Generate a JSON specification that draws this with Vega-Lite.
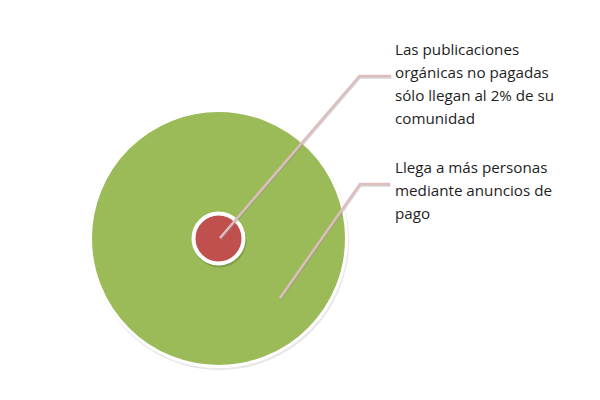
{
  "$schema": "https://vega.github.io/schema/vega-lite/v6.json",
  "width": 600,
  "height": 400,
  "autosize": "none",
  "padding": 0,
  "background": "white",
  "config": {"view": {"stroke": null}},
  "datasets": {
    "circulos": [
      {"segmento": "Llega a más personas mediante anuncios de pago", "cx": 218.5, "cy": 238.5},
      {"segmento": "Publicaciones orgánicas no pagadas", "cx": 218.5, "cy": 238.5}
    ],
    "guias": [
      {"guia": "organico", "orden": 0, "x": 220, "y": 238},
      {"guia": "organico", "orden": 1, "x": 359.5, "y": 76},
      {"guia": "organico", "orden": 2, "x": 391, "y": 76},
      {"guia": "pago", "orden": 0, "x": 280, "y": 298},
      {"guia": "pago", "orden": 1, "x": 360, "y": 184},
      {"guia": "pago", "orden": 2, "x": 390, "y": 184}
    ],
    "etiquetas": [
      {"texto": "Las publicaciones\norgánicas no pagadas\nsólo llegan al 2% de su\ncomunidad", "x": 395, "y": 54.5},
      {"texto": "Llega a más personas\nmediante anuncios de\npago", "x": 395, "y": 172.5}
    ]
  },
  "encoding": {
    "x": {"field": "x", "type": "quantitative", "scale": {"domain": [0, 600], "nice": false, "zero": false}, "axis": null},
    "y": {"field": "y", "type": "quantitative", "scale": {"domain": [0, 400], "nice": false, "zero": false, "reverse": true}, "axis": null}
  },
  "layer": [
    {
      "data": {"name": "circulos"},
      "transform": [{"filter": "datum.segmento == 'Llega a más personas mediante anuncios de pago'"}],
      "mark": {"type": "point", "shape": "circle", "filled": true, "size": 67240, "color": "#000000", "opacity": 0.09, "xOffset": 1, "yOffset": 2},
      "encoding": {"x": {"field": "cx", "type": "quantitative"}, "y": {"field": "cy", "type": "quantitative"}}
    },
    {
      "data": {"name": "circulos"},
      "transform": [{"filter": "datum.segmento == 'Llega a más personas mediante anuncios de pago'"}],
      "mark": {"type": "point", "shape": "circle", "filled": true, "size": 65536, "fill": "#9BBB59", "stroke": "#FFFFFF", "strokeWidth": 3, "opacity": 1},
      "encoding": {"x": {"field": "cx", "type": "quantitative"}, "y": {"field": "cy", "type": "quantitative"}}
    },
    {
      "data": {"name": "circulos"},
      "transform": [{"filter": "datum.segmento == 'Publicaciones orgánicas no pagadas'"}],
      "mark": {"type": "point", "shape": "circle", "filled": true, "size": 2916, "color": "#4F6B25", "opacity": 0.35, "xOffset": 1, "yOffset": 2},
      "encoding": {"x": {"field": "cx", "type": "quantitative"}, "y": {"field": "cy", "type": "quantitative"}}
    },
    {
      "data": {"name": "circulos"},
      "transform": [{"filter": "datum.segmento == 'Publicaciones orgánicas no pagadas'"}],
      "mark": {"type": "point", "shape": "circle", "filled": true, "size": 2500, "fill": "#C0504D", "stroke": "#FFFFFF", "strokeWidth": 4, "opacity": 1},
      "encoding": {"x": {"field": "cx", "type": "quantitative"}, "y": {"field": "cy", "type": "quantitative"}}
    },
    {
      "data": {"name": "guias"},
      "mark": {"type": "line", "color": "#8A8A8A", "strokeWidth": 2.5, "opacity": 0.35, "yOffset": 1.5, "xOffset": 0.5, "strokeCap": "butt"},
      "encoding": {
        "detail": {"field": "guia", "type": "nominal"},
        "order": {"field": "orden", "type": "quantitative"}
      }
    },
    {
      "data": {"name": "guias"},
      "mark": {"type": "line", "color": "#DDBDBD", "strokeWidth": 2.5, "strokeCap": "butt"},
      "encoding": {
        "detail": {"field": "guia", "type": "nominal"},
        "order": {"field": "orden", "type": "quantitative"}
      }
    },
    {
      "data": {"name": "etiquetas"},
      "mark": {"type": "text", "align": "left", "baseline": "alphabetic", "lineBreak": "\n", "lineHeight": 23.2, "font": "Open Sans", "fontSize": 15.2, "color": "#1E1E1E"},
      "encoding": {"text": {"field": "texto", "type": "nominal"}}
    }
  ]
}
